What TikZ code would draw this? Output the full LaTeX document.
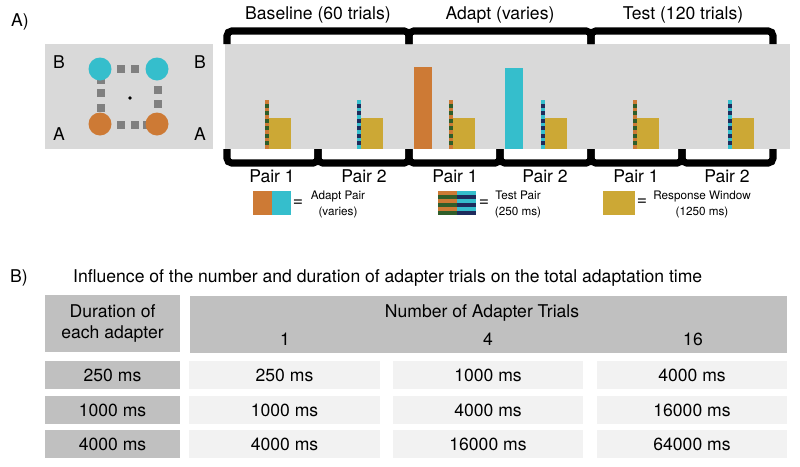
\documentclass[tikz,border=0pt]{standalone}
\usepackage{fontspec}
\setmainfont{TeX Gyre Heros}
\usetikzlibrary{positioning}
\definecolor{adorange}{HTML}{CD7A35}
\definecolor{adcyan}{HTML}{35BECC}
\definecolor{respgold}{HTML}{CCA835}
\definecolor{stgreen}{HTML}{2F5E2A}
\definecolor{stnavy}{HTML}{1E2B5C}
\definecolor{panelgray}{HTML}{D9D9D9}
\definecolor{sqgray}{HTML}{808080}
\definecolor{hdgray}{HTML}{C0C0C0}
\definecolor{ltgray}{HTML}{F2F2F2}
% striped test bar: x, colour a, colour b
\newcommand{\stripebar}[3]{%
  \fill[#2] (#1,100) rectangle ++(4,49);
  \foreach \k in {1,3,...,11} \fill[#3] (#1,100+\k*3.77) rectangle ++(4,3.77);}

\begin{document}
\begin{tikzpicture}[x=0.03cm, y=-0.03cm,
  lab/.style={font=\fontsize{15}{18}\selectfont, inner sep=0pt},
  small/.style={font=\fontsize{10}{13.6}\selectfont, align=center, inner sep=0pt},
  brk/.style={line width=6pt, rounded corners=4pt},
  hcell/.style={lab, fill=hdgray, minimum height=0.84cm, minimum width=4.05cm},
  vcell/.style={lab, fill=ltgray, minimum height=0.84cm, minimum width=5.7cm}]
  \useasboundingbox (0,0) rectangle (800,466);
  % panel A: display
  \node[lab, anchor=west] (labA) at (11,22) {A)};
  \fill[panelgray] (45,44) rectangle (213,149);
  \foreach \p in {(121,69),(135,69),(121,125),(135,125),(147,125),(101,80),(101,93),(101,108),(158,90),(158,104)}
    \fill[sqgray] \p ++(-3.75,-3.75) rectangle ++(7.5,7.5);
  \fill[adcyan] (100,69) circle[radius=11.5];
  \fill[adcyan] (157,69) circle[radius=11.5];
  \fill[adorange] (100,124) circle[radius=11.5];
  \fill[adorange] (157,124) circle[radius=11.5];
  \fill (130,98) circle[radius=1.8];
  \node[lab] (bl) at (59,62) {B};
  \node[lab] (br) at (200,62) {B};
  \node[lab] (al) at (59,134) {A};
  \node[lab] (ar) at (200,134) {A};
  % panel A: trial sequence
  \fill[panelgray] (225,44) rectangle (790,149);
  \fill[adorange] (414,67) rectangle (432,149);
  \fill[adcyan] (505,68) rectangle (523,149);
  \foreach \x/\ca/\cb in {265/adorange/stgreen, 357/adcyan/stnavy, 449/adorange/stgreen, 541/adcyan/stnavy, 633/adorange/stgreen, 728/adcyan/stnavy}{
    \stripebar{\x}{\ca}{\cb}
    \fill[respgold] (\x+4,118) rectangle (\x+26,149);
  }
  % brackets
  \foreach \a/\b in {227/409, 409/591, 591/773}
    \draw[brk] (\a,44) -- (\a,31) -- (\b,31) -- (\b,44);
  \foreach \a in {227,318,...,682}
    \draw[brk] (\a,149) -- (\a,163) -- (\a+91,163) -- (\a+91,149);
  \node[lab] (base) at (318,15) {Baseline (60 trials)};
  \node[lab] (adapt) at (500,15) {Adapt (varies)};
  \node[lab] (test) at (683,15) {Test (120 trials)};
  \foreach \x/\n [count=\i] in {272/1, 364/2, 455/1, 545/2, 636/1, 727/2}
    \node[lab] (pair\i) at (\x,176) {Pair \n};
  % legend
  \fill[adorange] (253,191) rectangle (272,215);
  \fill[adcyan] (272,191) rectangle (291,215);
  \node[lab] (eq1) at (298,203) {=};
  \node[small] (adleg) at (338,204) {Adapt Pair\\(varies)};
  \fill[adorange] (438,191) rectangle (457,215);
  \fill[adcyan] (457,191) rectangle (476,215);
  \foreach \k in {1,3,5}{
    \fill[stgreen] (438,191+\k*4) rectangle (457,195+\k*4);
    \fill[stnavy] (457,191+\k*4) rectangle (476,195+\k*4);
  }
  \node[lab] (eq2) at (484,203) {=};
  \node[small] (tsleg) at (518,204) {Test Pair\\(250 ms)};
  \fill[respgold] (603,191) rectangle (635,215);
  \node[lab] (eq3) at (642,202) {=};
  \node[small] (rsleg) at (702,204) {Response Window\\(1250 ms)};
  % panel B: table
  \node[lab, anchor=west] (labB) at (10,278) {B)};
  \node[lab, anchor=west] (title) at (73,278) {Influence of the number and duration of adapter trials on the total adaptation time};
  \node[hcell, minimum height=1.71cm, align=center] (hdur) at (112.5,323.5) {Duration of\\each adapter};
  \node[hcell, minimum width=17.91cm, minimum height=1.71cm] (hnum) at (488.5,324.5) {};
  \node[lab] (hnumt) at (482,313) {Number of Adapter Trials};
  \node[lab] (n1) at (285,339) {1};
  \node[lab] (n4) at (488,339) {4};
  \node[lab] (n16) at (693,339) {16};
  \foreach \y/\d/\a/\b/\c [count=\r] in {375/250/250/1000/4000, 410/1000/1000/4000/16000, 444/4000/4000/16000/64000}{
    \node[hcell] (d\r) at (112.5,\y) {\d\ ms};
    \node[vcell] (c\r a) at (284.5,\y) {\a\ ms};
    \node[vcell] (c\r b) at (488,\y) {\b\ ms};
    \node[vcell] (c\r c) at (692,\y) {\c\ ms};
  }
\end{tikzpicture}
\end{document}
